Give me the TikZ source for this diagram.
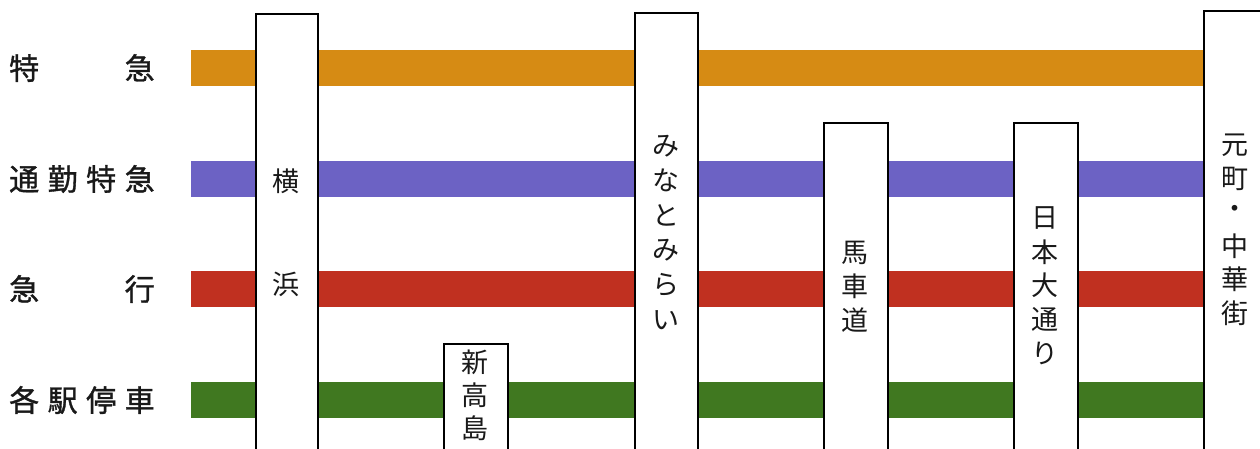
\documentclass[tikz,border=0pt]{standalone}
\usepackage{fontspec}
\newfontfamily\cjk{Noto Sans CJK JP}
\newfontfamily\cjkm[FakeBold=1.2]{Noto Sans CJK JP}
\definecolor{cOrange}{RGB}{214,139,20}
\definecolor{cPurple}{RGB}{108,98,196}
\definecolor{cRed}{RGB}{192,48,32}
\definecolor{cGreen}{RGB}{64,120,32}
\newcommand\qcells[4]{\makebox[38.5pt]{#1}\makebox[38.5pt]{#2}\makebox[38.5pt]{#3}\makebox[38.5pt]{#4}}
\tikzset{
  bar/.style={draw=none, inner sep=0pt, minimum height=36pt, minimum width=1019pt, anchor=west},
  stnbox/.style={draw=black, fill=white, line width=2pt, inner sep=0pt, anchor=north west},
  stn/.style={font=\cjk\fontsize{27}{27}\selectfont, inner sep=0pt, text=black!90},
  lbl/.style={font=\cjkm\fontsize{30}{30}\selectfont, inner sep=0pt, anchor=west, text=black!90}
}
\begin{document}
\begin{tikzpicture}[x=1pt,y=-1pt]
\useasboundingbox[fill=white] (0,0) rectangle (1260,448);
% service bars
\node[bar, fill=cOrange] (tokkyu)  at (191,68)  {};
\node[bar, fill=cPurple] (tsukin)  at (191,179) {};
\node[bar, fill=cRed]    (kyuko)   at (191,289) {};
\node[bar, fill=cGreen]  (kakueki) at (191,400) {};
% service labels
\node[lbl] (ltokkyu)  at (4.75,68)  {\qcells{特}{}{}{急}};
\node[lbl] (ltsukin)  at (4.75,179) {\qcells{通}{勤}{特}{急}};
\node[lbl] (lkyuko)   at (4.75,289) {\qcells{急}{}{}{行}};
\node[lbl] (lkakueki) at (4.75,400) {\qcells{各}{駅}{停}{車}};
% station boxes
\node[stnbox, minimum width=62pt, minimum height=470pt] (yokohama)   at (255,13)  {};
\node[stnbox, minimum width=64pt, minimum height=140pt] (shintaka)   at (443,343) {};
\node[stnbox, minimum width=63pt, minimum height=470pt] (minato)     at (634,12)  {};
\node[stnbox, minimum width=64pt, minimum height=360pt] (bashamichi) at (823,122) {};
\node[stnbox, minimum width=64pt, minimum height=360pt] (nihon)      at (1013,122){};
\node[stnbox, minimum width=64pt, minimum height=470pt] (motomachi)  at (1203,10) {};
% station names (vertical)
\node[stn] (yk1) at (286,181) {横};
\node[stn] (yk2) at (286,284) {浜};
\foreach \c [count=\i] in {新,高,島}
  \node[stn] (st\i) at (475,{362+33*(\i-1)}) {\c};
\foreach \c [count=\i] in {み,な,と,み,ら,い}
  \node[stn] (mm\i) at (665.5,{146+34.8*(\i-1)}) {\c};
\foreach \c [count=\i] in {馬,車,道}
  \node[stn] (bs\i) at (855,{253+33.5*(\i-1)}) {\c};
\foreach \c [count=\i] in {日,本,大,通,り}
  \node[stn] (ni\i) at (1045,{218+33.8*(\i-1)}) {\c};
\foreach \c [count=\i] in {元,町,・,中,華,街}
  \node[stn] (mc\i) at (1235,{145+33.6*(\i-1)}) {\c};
\end{tikzpicture}
\end{document}
